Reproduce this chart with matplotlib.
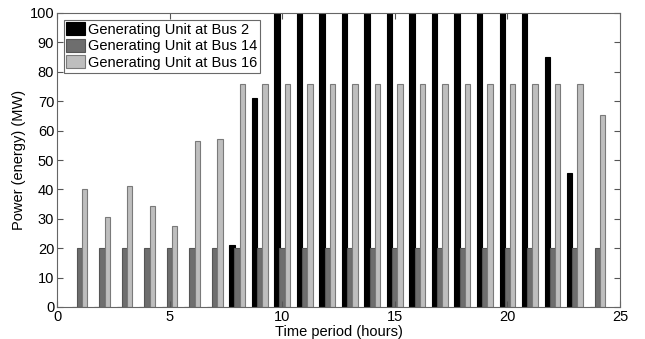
import matplotlib
matplotlib.use('Agg')
import matplotlib.pyplot as plt
import numpy as np

hours = list(range(1, 25))
bus2 = [0, 0, 0, 0, 0, 0, 0, 21, 71, 100, 100, 100, 100, 100, 100, 100,
        100, 100, 100, 100, 100, 85, 45.5, 0]
bus14 = [20] * 24
bus16 = [40.3, 30.5, 41.3, 34.5, 27.5, 56.3, 57, 76, 76, 76, 76, 76, 76,
         76, 76, 76, 76, 76, 76, 76, 76, 76, 76, 65.2]
labels = ['Generating Unit at Bus 2', 'Generating Unit at Bus 14',
          'Generating Unit at Bus 16']

plt.rcParams['font.family'] = ['Liberation Sans', 'DejaVu Sans']

fig = plt.figure(figsize=(6.45, 3.39), dpi=100)
ax = fig.add_axes([57 / 645, 1 - 307 / 339, 563 / 645, 294 / 339])

x = np.array(hours)
w = 0.24
series = [(bus2, -0.23, '#000000', '#000000'),
          (bus14, 0.0, '#6e6e6e', '#555555'),
          (bus16, 0.23, '#bebebe', '#7a7a7a')]
for (vals, off, fc, ec), lab in zip(series, labels):
    ax.bar(x + off, vals, width=w, color=fc, edgecolor=ec, linewidth=0.8,
           label=lab)

ax.set_xlim(0, 25)
ax.set_ylim(0, 100)
ax.set_xticks(range(0, 26, 5))
ax.set_yticks(range(0, 101, 10))
ax.tick_params(direction='in', top=True, right=True, labelsize=10.5,
               length=4, color='#555555', pad=2)
for s in ax.spines.values():
    s.set_color('#666666')
ax.set_xlabel('Time period (hours)', fontsize=10.5)
ax.set_ylabel('Power (energy) (MW)', fontsize=10.5)
ax.xaxis.set_label_coords(0.5, -0.06)
ax.yaxis.set_label_coords(-0.055, 0.5)

leg = ax.legend(loc='upper left', fontsize=10.5, frameon=True, fancybox=False,
                borderpad=0.2, labelspacing=0.15, handlelength=1.3,
                handleheight=0.95, handletextpad=0.15, borderaxespad=0.45)
leg.get_frame().set_edgecolor('#444444')
leg.get_frame().set_linewidth(0.8)

fig.savefig('out.png', dpi=100)
plt.close(fig)
